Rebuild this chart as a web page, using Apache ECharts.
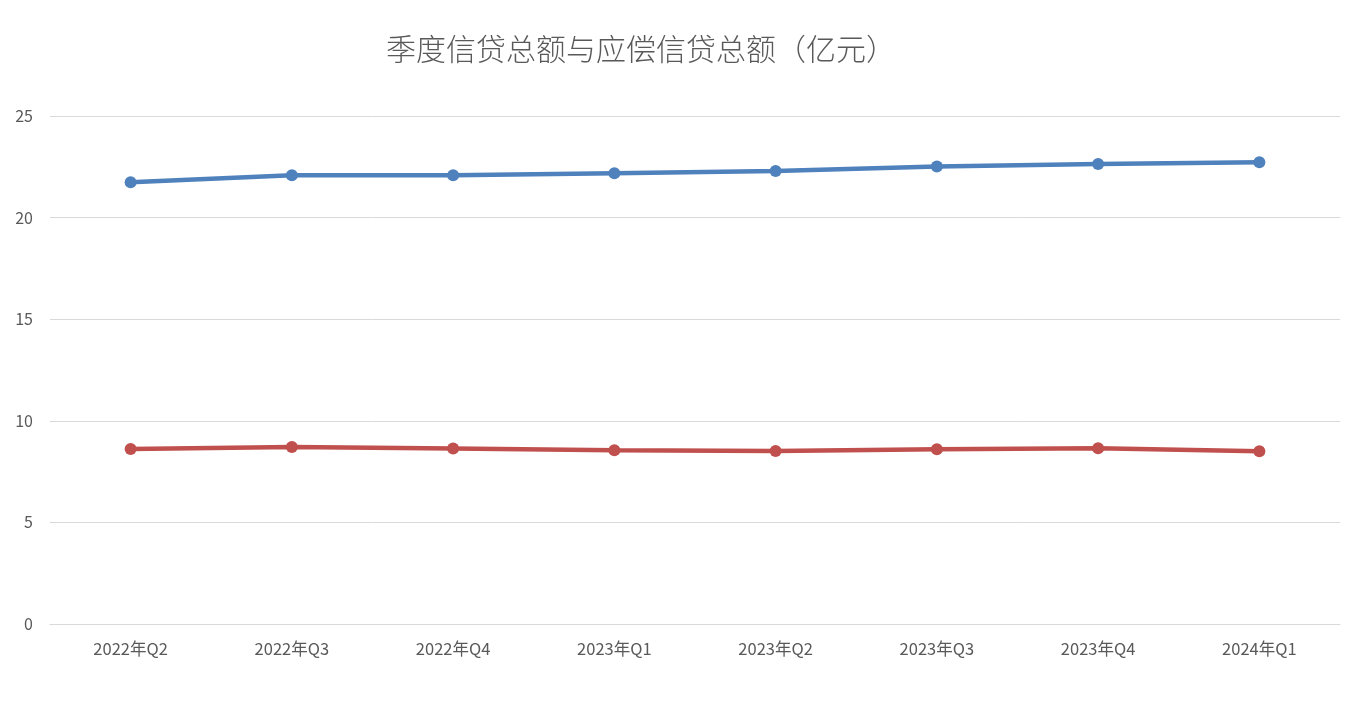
<!DOCTYPE html>
<html>
<head>
<meta charset="utf-8">
<script src="https://cdn.jsdelivr.net/npm/echarts@6/dist/echarts.min.js"></script>
<style>html,body{margin:0;padding:0;background:#fff;}#c{width:1365px;height:703px;}</style>
</head>
<body>
<div id="c"></div>
<script>
const categories = ['2022年Q2','2022年Q3','2022年Q4','2023年Q1','2023年Q2','2023年Q3','2023年Q4','2024年Q1'];
const totalCredit = [21.74, 22.08, 22.08, 22.18, 22.29, 22.52, 22.64, 22.72];
const dueCredit = [8.61, 8.71, 8.64, 8.55, 8.51, 8.60, 8.65, 8.50];
const titleText = '季度信贷总额与应偿信贷总额（亿元）';

const chart = echarts.init(document.getElementById('c'));
chart.setOption({
  animation: false,
  backgroundColor: '#ffffff',
  title: {
    text: titleText,
    left: 636, top: 29, textAlign: 'center',
    textStyle: { fontFamily: 'Noto Sans CJK SC', fontWeight: 300, fontSize: 30, color: '#595959' }
  },
  grid: { left: 50, right: 25, top: 116, bottom: 79 },
  xAxis: {
    type: 'category', data: categories, boundaryGap: true,
    axisLine: { lineStyle: { color: '#d9d9d9', width: 1 } },
    axisTick: { show: false },
    axisLabel: { color: '#595959', fontSize: 16.5, margin: 16, fontFamily: 'Noto Sans CJK SC' }
  },
  yAxis: {
    type: 'value', min: 0, max: 25, interval: 5,
    axisLine: { show: false }, axisTick: { show: false },
    splitLine: { lineStyle: { color: '#d9d9d9', width: 1 } },
    axisLabel: { color: '#595959', fontSize: 16, margin: 17, fontFamily: 'Noto Sans CJK SC' }
  },
  series: [
    { type: 'line', data: totalCredit, symbol: 'circle', symbolSize: 12,
      lineStyle: { color: '#4F81BD', width: 4.5 }, itemStyle: { color: '#4F81BD' } },
    { type: 'line', data: dueCredit, symbol: 'circle', symbolSize: 12,
      lineStyle: { color: '#C0504D', width: 4.5 }, itemStyle: { color: '#C0504D' } }
  ]
});
</script>
</body>
</html>
